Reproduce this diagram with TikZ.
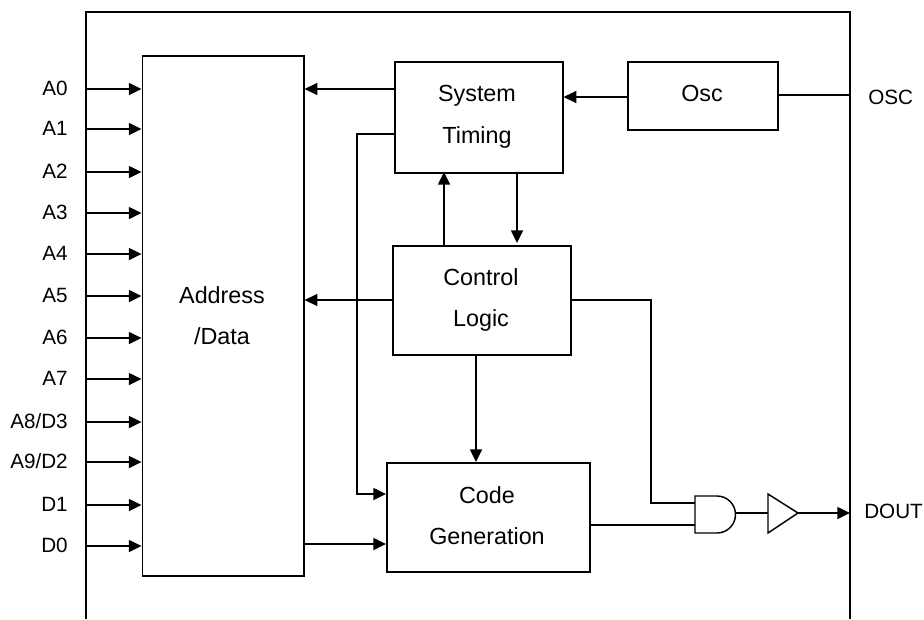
\documentclass[tikz,border=0pt]{standalone}
\usepackage{fontspec}
\setmainfont{Liberation Sans}
\usetikzlibrary{arrows.meta, positioning}
\tikzset{
    blockbox/.style={draw, line width=1.2pt, inner sep=0pt, anchor=north west},
    sig/.style={line width=1.1pt, -{Triangle[length=9.5pt,width=9pt]}},
    wire/.style={line width=1.1pt},
    pinlab/.style={inner sep=0pt, anchor=base east, font=\fontsize{15.5pt}{18pt}\selectfont},
    txt/.style={inner sep=0pt, anchor=base, font=\fontsize{17.5pt}{20pt}\selectfont},
}
\begin{document}
\begin{tikzpicture}[x=0.75pt,y=-0.75pt]
\useasboundingbox (0,0) rectangle (924,619);
\draw[line width=1.2pt] (86,619) -- (86,12) -- (850,12) -- (850,619);
% blocks
\node[blockbox, minimum width=161.5*0.75pt, minimum height=520*0.75pt] (addr) at (141.5,55) {};
\node[txt] (addrtop) at (222,303) {Address};
\node[txt] (addrbot) at (222,344) {/Data};
\node[blockbox, minimum width=168*0.75pt, minimum height=111*0.75pt] (timing) at (394,61) {};
\node[txt] (timingtop) at (477,101) {System};
\node[txt] (timingbot) at (477,143) {Timing};
\node[blockbox, minimum width=150*0.75pt, minimum height=68*0.75pt] (osc) at (627,61) {};
\node[txt] (osclab) at (702,101) {Osc};
\node[blockbox, minimum width=178*0.75pt, minimum height=109*0.75pt] (ctrl) at (392,245) {};
\node[txt] (ctrltop) at (481,285) {Control};
\node[txt] (ctrlbot) at (481,326) {Logic};
\node[blockbox, minimum width=203*0.75pt, minimum height=109*0.75pt] (code) at (386,462) {};
\node[txt] (codetop) at (487,503) {Code};
\node[txt] (codebot) at (487,544) {Generation};
% gates
\coordinate (andtl) at (695,496);
\coordinate (andbl) at (695,533);
\draw[wire] (andbl) -- (andtl) -- (717,496) arc (-90:90:18.5) -- cycle;
\coordinate (andout) at (735.5,513);
\coordinate (buftl) at (768,494);
\coordinate (bufbl) at (768,533);
\coordinate (bufout) at (798,513);
\draw[wire] (buftl) -- (bufout) -- (bufbl) -- cycle;
% pins
\foreach \y/\lab/\nm in {89/A0/pa, 129/A1/pb, 172/A2/pc, 213/A3/pd, 254/A4/pe, 296/A5/pf, 338/A6/pg, 379/A7/ph, 422/A8\slash D3/pi, 462/A9\slash D2/pj, 505/D1/pk, 546/D0/pl} {
    \node[pinlab] (\nm) at (68,\y+6) {\lab};
    \coordinate (\nm s) at (86,\y);
    \draw[sig] (\nm s) -- (\nm s -| addr.west);
}
\node[pinlab, anchor=base west] (osclbl) at (868,104) {OSC};
\node[pinlab, anchor=base west] (doutlbl) at (864,518) {DOUT};
\coordinate (oscpin) at (850,95);
\coordinate (doutpin) at (850,513);
% connectors
\draw[wire] (osc.east |- oscpin) -- (oscpin);
\draw[sig] (osc.west |- 0,97) -- (timing.east |- 0,97);
\draw[sig] (timing.west |- 0,89) -- (addr.east |- 0,89);
\draw[sig] (ctrl.west |- 0,300) -- (addr.east |- 0,300);
\draw[sig] (444,245) -- (444,172);
\draw[sig] (517,172) -- (517,243);
\draw[sig] (476,354) -- (476,462);
\draw[sig] (timing.west |- 0,134) -- (357,134) -- (357,494) -- (code.west |- 0,494);
\draw[sig] (addr.east |- 0,544) -- (code.west |- 0,544);
\draw[wire] (ctrl.east |- 0,300) -- (651,300) -- (651,503) -- (andtl |- 0,503);
\draw[wire] (code.east |- 0,525) -- (andbl |- 0,525);
\draw[wire] (andout) -- (768,513);
\draw[sig] (bufout) -- (doutpin);
\end{tikzpicture}
\end{document}
